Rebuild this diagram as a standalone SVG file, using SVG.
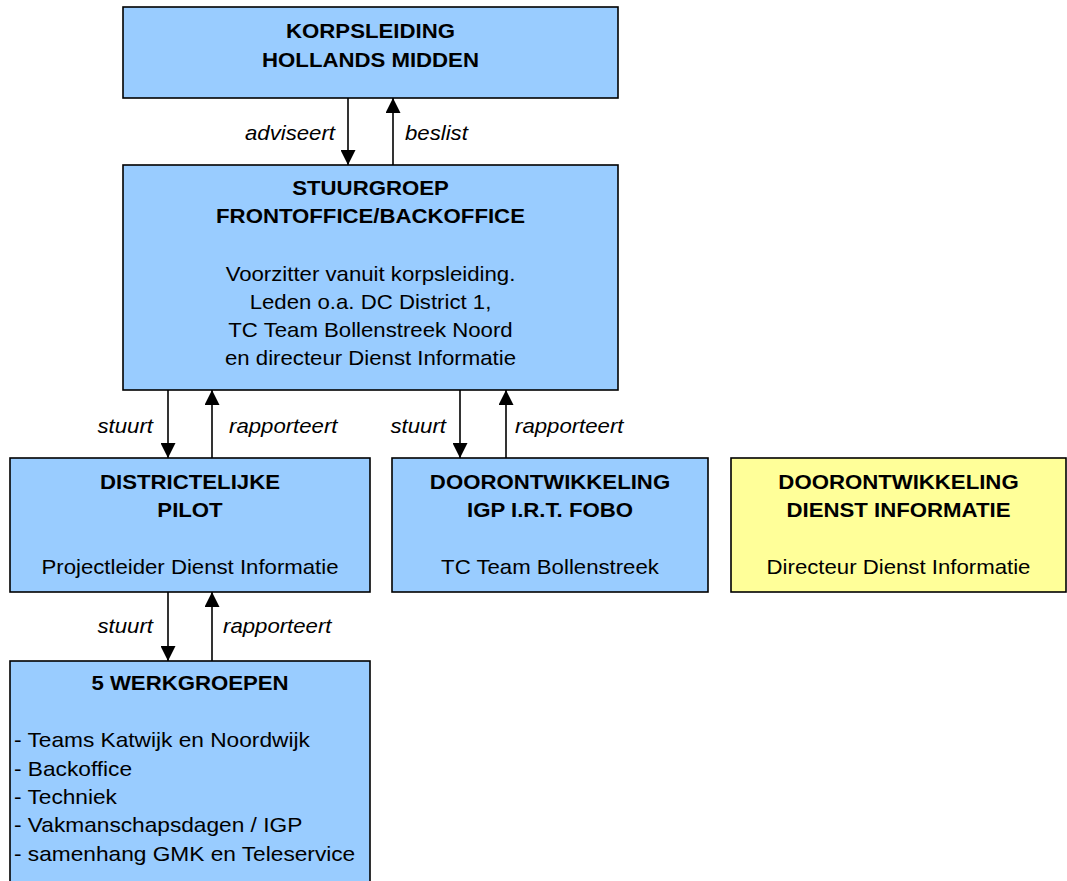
<svg xmlns="http://www.w3.org/2000/svg" width="1067" height="881" viewBox="0 0 1067 881">
<defs>
<style>
.box{fill:#99CCFF;stroke:#000;stroke-width:1.6}
.ybox{fill:#FFFF99;stroke:#000;stroke-width:1.6}
text{font-family:"Liberation Sans",Arial,sans-serif;font-size:20px;fill:#000}
.b{font-weight:bold}
.c{text-anchor:middle}
.l{font-style:italic}
.e{text-anchor:end}
.arr{stroke:#000;stroke-width:1.6;fill:none}
</style>
<marker id="a" markerWidth="15" markerHeight="15" refX="14" refY="7" orient="auto" markerUnits="userSpaceOnUse" viewBox="0 0 14 14">
<path d="M0,0 L14,7 L0,14 z" fill="#000"/>
</marker>
</defs>
<rect width="1067" height="881" fill="#fff"/>

<g id="korpsleiding">
<rect class="box" x="123" y="7" width="495" height="91"/>
<g transform="translate(370.5 0) scale(1.11 1)">
<text class="b c"><tspan x="0" y="38.5">KORPSLEIDING</tspan><tspan x="0" y="67">HOLLANDS MIDDEN</tspan></text>
</g>
</g>

<g id="stuurgroep">
<rect class="box" x="123" y="165" width="495" height="225"/>
<g transform="translate(370.5 0) scale(1.11 1)">
<text class="b c"><tspan x="0" y="195">STUURGROEP</tspan><tspan x="0" y="223.5">FRONTOFFICE/BACKOFFICE</tspan></text>
<text class="c"><tspan x="0" y="281">Voorzitter vanuit korpsleiding.</tspan><tspan x="0" y="309">Leden o.a. DC District 1,</tspan><tspan x="0" y="337">TC Team Bollenstreek Noord</tspan><tspan x="0" y="365">en directeur Dienst Informatie</tspan></text>
</g>
</g>

<g id="pilot">
<rect class="box" x="10" y="458" width="360" height="134"/>
<g transform="translate(190 0) scale(1.11 1)">
<text class="b c"><tspan x="0" y="489">DISTRICTELIJKE</tspan><tspan x="0" y="517">PILOT</tspan></text>
<text class="c" x="0" y="574">Projectleider Dienst Informatie</text>
</g>
</g>

<g id="igp">
<rect class="box" x="392" y="458" width="316" height="134"/>
<g transform="translate(550 0) scale(1.11 1)">
<text class="b c"><tspan x="0" y="489">DOORONTWIKKELING</tspan><tspan x="0" y="517">IGP I.R.T. FOBO</tspan></text>
<text class="c" x="0" y="574">TC Team Bollenstreek</text>
</g>
</g>

<g id="dienst">
<rect class="ybox" x="731" y="458" width="335" height="134"/>
<g transform="translate(898.5 0) scale(1.11 1)">
<text class="b c"><tspan x="0" y="489">DOORONTWIKKELING</tspan><tspan x="0" y="517">DIENST INFORMATIE</tspan></text>
<text class="c" x="0" y="574">Directeur Dienst Informatie</text>
</g>
</g>

<g id="werkgroepen">
<rect class="box" x="10" y="661" width="360" height="230"/>
<g transform="translate(190 0) scale(1.11 1)">
<text class="b c" x="0" y="690">5 WERKGROEPEN</text>
</g>
<g transform="translate(14 0) scale(1.135 1)">
<text><tspan x="0" y="747.5">- Teams Katwijk en Noordwijk</tspan><tspan x="0" y="776">- Backoffice</tspan><tspan x="0" y="804.5">- Techniek</tspan><tspan x="0" y="832.5">- Vakmanschapsdagen / IGP</tspan><tspan x="0" y="861">- samenhang GMK en Teleservice</tspan></text>
</g>
</g>

<g id="connectors">
<line class="arr" x1="348" y1="98" x2="348" y2="165" marker-end="url(#a)"/>
<line class="arr" x1="393" y1="165" x2="393" y2="98" marker-end="url(#a)"/>
<line class="arr" x1="168" y1="390" x2="168" y2="458" marker-end="url(#a)"/>
<line class="arr" x1="212" y1="458" x2="212" y2="390" marker-end="url(#a)"/>
<line class="arr" x1="460" y1="390" x2="460" y2="458" marker-end="url(#a)"/>
<line class="arr" x1="506" y1="458" x2="506" y2="390" marker-end="url(#a)"/>
<line class="arr" x1="168" y1="592" x2="168" y2="661" marker-end="url(#a)"/>
<line class="arr" x1="212" y1="661" x2="212" y2="592" marker-end="url(#a)"/>
<text class="l e" transform="translate(335 140) scale(1.11 1)">adviseert</text>
<text class="l" transform="translate(405 140) scale(1.11 1)">beslist</text>
<text class="l e" transform="translate(153 433) scale(1.11 1)">stuurt</text>
<text class="l" transform="translate(229 433) scale(1.11 1)">rapporteert</text>
<text class="l e" transform="translate(446 433) scale(1.11 1)">stuurt</text>
<text class="l" transform="translate(515 433) scale(1.11 1)">rapporteert</text>
<text class="l e" transform="translate(153 633) scale(1.11 1)">stuurt</text>
<text class="l" transform="translate(223 633) scale(1.11 1)">rapporteert</text>
</g>
</svg>
